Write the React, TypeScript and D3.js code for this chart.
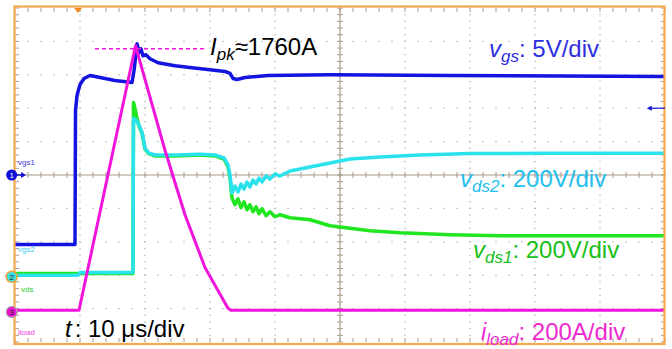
import React from 'react';
import * as d3 from 'd3';

// time in µs (10 µs/div), value in screen divisions (0 = centre line)
const vgsData: [number, number][] = [
  [0, -2.08], [9.23, -2.08], [9.31, 1.93], [9.54, 2.38], [10.0, 2.71], [10.62, 2.89],
  [11.54, 2.98], [13.08, 2.92], [15.38, 2.83], [18.0, 2.77], [18.31, 3.12], [18.62, 3.66],
  [18.77, 3.93], [19.08, 3.66], [19.38, 3.78], [19.69, 3.57], [20.15, 3.6], [20.77, 3.48],
  [22.0, 3.36], [24.62, 3.27], [27.23, 3.21], [30.0, 3.15], [32.31, 3.1], [33.08, 3.04],
  [33.54, 2.89], [34.15, 2.86], [35.38, 2.92], [38.92, 2.98], [48.46, 3.0], [66.92, 2.98],
  [100, 2.95],
];

const vds2Data: [number, number][] = [
  [0, -3.0], [9.69, -3.0], [10.0, -2.92], [18.15, -2.92], [18.23, 1.7], [18.62, 1.64],
  [19.08, 1.49], [19.54, 1.28], [20.0, 0.8], [20.62, 0.65], [21.54, 0.6], [24.62, 0.6],
  [28.46, 0.62], [30.77, 0.6], [32.15, 0.51], [32.77, 0.3], [33.08, 0.0], [33.38, -0.54],
  [33.85, -0.33], [34.31, -0.51], [34.77, -0.27], [35.23, -0.42], [35.69, -0.21],
  [36.15, -0.36], [36.62, -0.15], [37.08, -0.27], [37.54, -0.09], [38.0, -0.21],
  [38.62, -0.03], [39.23, -0.12], [40.0, 0.03], [40.77, -0.03], [42.31, 0.12],
  [45.38, 0.24], [48.46, 0.36], [51.54, 0.48], [56.15, 0.54], [62.31, 0.6], [70.0, 0.64],
  [82.31, 0.65], [100, 0.65],
];

const vds1Data: [number, number][] = [
  [0, -2.95], [18.15, -2.95], [18.23, 2.17], [18.46, 1.99], [18.77, 1.7], [19.08, 1.46],
  [19.54, 1.25], [20.0, 0.77], [20.62, 0.63], [21.54, 0.57], [24.62, 0.57], [28.46, 0.6],
  [30.77, 0.57], [32.15, 0.48], [32.77, 0.24], [33.08, -0.09], [33.38, -0.68],
  [33.85, -0.89], [34.31, -0.71], [34.77, -0.98], [35.23, -0.8], [35.69, -1.04],
  [36.15, -0.89], [36.62, -1.1], [37.08, -0.95], [37.54, -1.16], [38.0, -1.01],
  [38.62, -1.22], [39.23, -1.1], [40.0, -1.25], [40.77, -1.19], [42.31, -1.28],
  [45.38, -1.34], [48.46, -1.52], [54.62, -1.67], [59.23, -1.73], [66.92, -1.79],
  [74.62, -1.82], [100, -1.82],
];

const iloadData: [number, number][] = [
  [0, -4.05], [9.85, -4.05], [18.54, 3.87], [23.08, 0.74], [26.15, -1.19], [29.23, -2.77],
  [32.77, -3.99], [33.23, -4.05], [100, -4.05],
];

const peakLine: [number, number][] = [[12.3, 3.78], [29.2, 3.78]];

const xMajor = d3.range(0, 101, 10);
const yMajor = d3.range(-5, 6, 1);

const FONT = "'Liberation Sans', Arial, sans-serif";

export default function App() {
  const x = d3.scaleLinear().domain([0, 100]).range([15, 665]);
  const y = d3.scaleLinear().domain([-5, 5]).range([342, 8]);
  const line = d3.line<[number, number]>().x(d => x(d[0])).y(d => y(d[1]));

  const xMinor = d3.range(0, 100.01, 2);
  const yMinor = d3.range(-5, 5.001, 0.2);
  const grid = '#a89c8c';
  const dot = '#a8a8a8';

  const dots: JSX.Element[] = [];
  xMajor.filter(t => t !== 0 && t !== 50 && t !== 100).forEach(t =>
    yMinor.forEach((v, i) => dots.push(<rect key={`vd${t}-${i}`} x={x(t) - 0.6} y={y(v) - 0.6} width={1.2} height={1.2} fill={dot} />)));
  yMajor.filter(v => v !== 0 && v !== -5 && v !== 5).forEach(v =>
    xMinor.forEach((t, i) => dots.push(<rect key={`hd${v}-${i}`} x={x(t) - 0.6} y={y(v) - 0.6} width={1.2} height={1.2} fill={dot} />)));

  const ticks: JSX.Element[] = [];
  xMinor.forEach((t, i) => {
    ticks.push(<line key={`ct${i}`} x1={x(t)} x2={x(t)} y1={y(0) - 3} y2={y(0) + 3} stroke={grid} />);
    ticks.push(<line key={`tt${i}`} x1={x(t)} x2={x(t)} y1={y(5)} y2={y(5) + 4} stroke={grid} />);
    ticks.push(<line key={`bt${i}`} x1={x(t)} x2={x(t)} y1={y(-5)} y2={y(-5) - 4} stroke={grid} />);
  });
  yMinor.forEach((v, i) => {
    ticks.push(<line key={`cv${i}`} x1={x(50) - 3} x2={x(50) + 3} y1={y(v)} y2={y(v)} stroke={grid} />);
    ticks.push(<line key={`lv${i}`} x1={x(0)} x2={x(0) + 4} y1={y(v)} y2={y(v)} stroke={grid} />);
    ticks.push(<line key={`rv${i}`} x1={x(100)} x2={x(100) - 4} y1={y(v)} y2={y(v)} stroke={grid} />);
  });

  const cBlue = '#1414e0', cCyan = '#2ae2ec', cGreen = '#1fe61f', cMag = '#f014dc';

  return (
    <svg width={672} height={349} style={{ position: 'absolute', left: 0, top: 0 }} fontFamily={FONT}>
      <rect width={672} height={349} fill="#fff" />
      {dots}
      <line x1={x(0)} x2={x(100)} y1={y(0)} y2={y(0)} stroke={grid} strokeWidth={1.2} />
      <line x1={x(50)} x2={x(50)} y1={y(-5)} y2={y(5)} stroke={grid} strokeWidth={1.2} />
      {ticks}

      {/* traces */}
      <path d={line(vds1Data) || ''} fill="none" stroke={cGreen} strokeWidth={3.5} strokeLinejoin="round" />
      <path d={line(vds2Data) || ''} fill="none" stroke={cCyan} strokeWidth={3.5} strokeLinejoin="round" />
      <path d={line(vgsData) || ''} fill="none" stroke={cBlue} strokeWidth={3.5} strokeLinejoin="round" />
      <path d={line(iloadData) || ''} fill="none" stroke={cMag} strokeWidth={3} strokeLinejoin="round" />
      <path d={line(peakLine) || ''} fill="none" stroke={cMag} strokeWidth={1.5} strokeDasharray="4 3" />

      {/* frame */}
      <rect x={x(0) - 0.5} y={y(5) - 1.5} width={x(100) - x(0)} height={y(-5) - y(5) + 3.5} fill="none" stroke="#f5a84c" strokeWidth={2.2} />
      <path d={`M${x(9.7) - 4},${y(5)}L${x(9.7) + 4},${y(5)}L${x(9.7)},${y(5) + 5}Z`} fill="#f08a20" />

      {/* right trigger arrow */}
      <line x1={x(97.5)} x2={x(100)} y1={y(2)} y2={y(2)} stroke={cBlue} strokeWidth={1.2} />
      <path d={`M${x(97.5) - 2},${y(2)}L${x(97.5) + 3},${y(2) - 2.5}L${x(97.5) + 3},${y(2) + 2.5}Z`} fill={cBlue} />

      {/* channel markers */}
      <text x={18} y={165} fontSize={8} fill="#3a3ad8">vgs1</text>
      <circle cx={11.7} cy={y(0)} r={5.5} fill="#1010d8" />
      <text x={11.7} y={y(0) + 3} fontSize={8} fill="#fff" textAnchor="middle">1</text>
      <path d={`M17,${y(0)}L24,${y(0)}`} stroke="#1010d8" strokeWidth={1.5} />
      <path d={`M26,${y(0)}L21,${y(0) - 3}L21,${y(0) + 3}Z`} fill="#1010d8" />

      <text x={18} y={252} fontSize={8} fill="#44ccee">vgs2</text>
      <circle cx={11.7} cy={y(-3.05)} r={5.5} fill="#3ee0e6" stroke="#f0a030" strokeWidth={1.5} />
      <text x={11.7} y={y(-3.05) + 3} fontSize={8} fill="#222" textAnchor="middle">2</text>
      <text x={21} y={292} fontSize={8} fill="#2ccc2c">vds</text>

      <circle cx={11.7} cy={y(-4.1)} r={5.5} fill="#ee14d4" stroke="#aaa" strokeWidth={1.2} />
      <text x={11.7} y={y(-4.1) + 3} fontSize={8} fill="#222" textAnchor="middle">3</text>
      <text x={18} y={335} fontSize={8} fill="#ee44d8">iload</text>

      {/* annotations */}
      <text x={210} y={55} fontSize={24} fill="#000">
        <tspan fontStyle="italic">I</tspan>
        <tspan fontStyle="italic" fontSize={17} dy={5}>pk</tspan>
        <tspan dy={-5}>≈1760A</tspan>
      </text>
      <text x={489} y={57} fontSize={24} fill="#2e2ee0">
        <tspan fontStyle="italic">v</tspan>
        <tspan fontStyle="italic" fontSize={17} dy={5}>gs</tspan>
        <tspan dy={-5}>: 5V/div</tspan>
      </text>
      <text x={460} y={187} fontSize={24} fill="#22bfee">
        <tspan fontStyle="italic">v</tspan>
        <tspan fontStyle="italic" fontSize={17} dy={5}>ds2</tspan>
        <tspan dy={-5}>: 200V/div</tspan>
      </text>
      <text x={473} y={258} fontSize={24} fill="#18c018">
        <tspan fontStyle="italic">v</tspan>
        <tspan fontStyle="italic" fontSize={17} dy={5}>ds1</tspan>
        <tspan dy={-5}>: 200V/div</tspan>
      </text>
      <text x={481} y={340} fontSize={24} fill="#ee2ad0">
        <tspan fontStyle="italic">i</tspan>
        <tspan fontStyle="italic" fontSize={17} dy={5}>load</tspan>
        <tspan dy={-5}>: 200A/div</tspan>
      </text>
      <text x={65} y={337} fontSize={24} fill="#000">
        <tspan fontStyle="italic">t</tspan>
        <tspan dx={3}>: 10 μs/div</tspan>
      </text>
    </svg>
  );
}
